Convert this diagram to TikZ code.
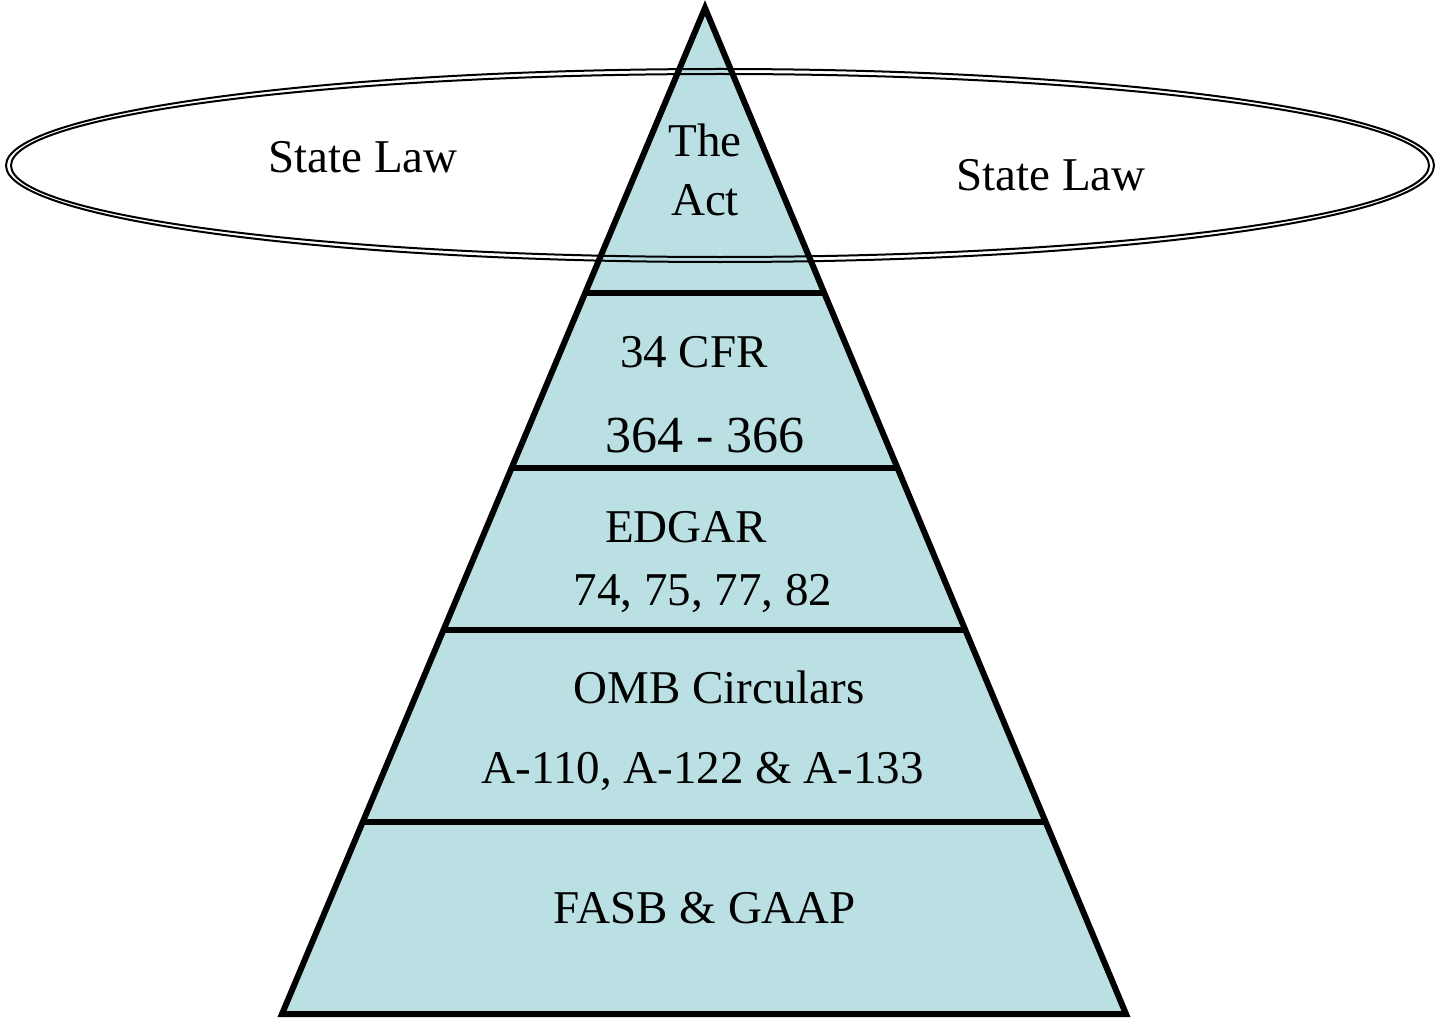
\documentclass[tikz,border=0pt]{standalone}
\usepackage{fontspec}
\setmainfont{Liberation Serif}
\usetikzlibrary{calc}
\definecolor{pyr}{RGB}{186,224,227}
\begin{document}
\begin{tikzpicture}[x=1pt,y=-1pt,
  lbl/.style={font=\fontsize{47}{56}\selectfont, anchor=base, inner sep=0pt},
  biglbl/.style={font=\fontsize{52}{62}\selectfont, anchor=base, inner sep=0pt},
  ring/.style={line width=2pt},
  edge/.style={line width=6pt, line join=miter}]
\useasboundingbox (0,0) rectangle (1437,1019);
\coordinate (apex) at (705,8);
\coordinate (bl) at (282,1014);
\coordinate (br) at (1126,1014);
\fill[pyr] (apex) -- (bl) -- (br) -- cycle;
\draw[ring] (720,165.5) ellipse [x radius=714, y radius=96.5];
\draw[ring] (720,165.5) ellipse [x radius=709, y radius=91.5];
\foreach \t/\n in {0.2833/a,0.4573/b,0.6183/c,0.8091/d}{
  \coordinate (L\n) at ($(apex)!\t!(bl)$);
  \coordinate (R\n) at ($(apex)!\t!(br)$);
  \draw[edge] (L\n) -- (R\n);
}
\draw[edge] (apex) -- (bl) -- (br) -- cycle;
\node[lbl] (sl1) at (363,173) {State Law};
\node[lbl] (sl2) at (1051,190) {State Law};
\node[lbl] (the) at (705,157) {The};
\node[lbl] (act) at (705,215) {Act};
\node[lbl] (cfr) at (694,367) {34 CFR};
\node[biglbl] (cfrn) at (705,452) {364 - 366};
\node[lbl] (edgar) at (686,542) {EDGAR};
\node[lbl] (edgarn) at (703,605) {74, 75, 77, 82};
\node[lbl] (omb) at (719,703) {OMB Circulars};
\node[lbl] (ombn) at (703,783) {A-110, A-122 \& A-133};
\node[lbl] (fasb) at (705,923) {FASB \& GAAP};
\end{tikzpicture}
\end{document}
